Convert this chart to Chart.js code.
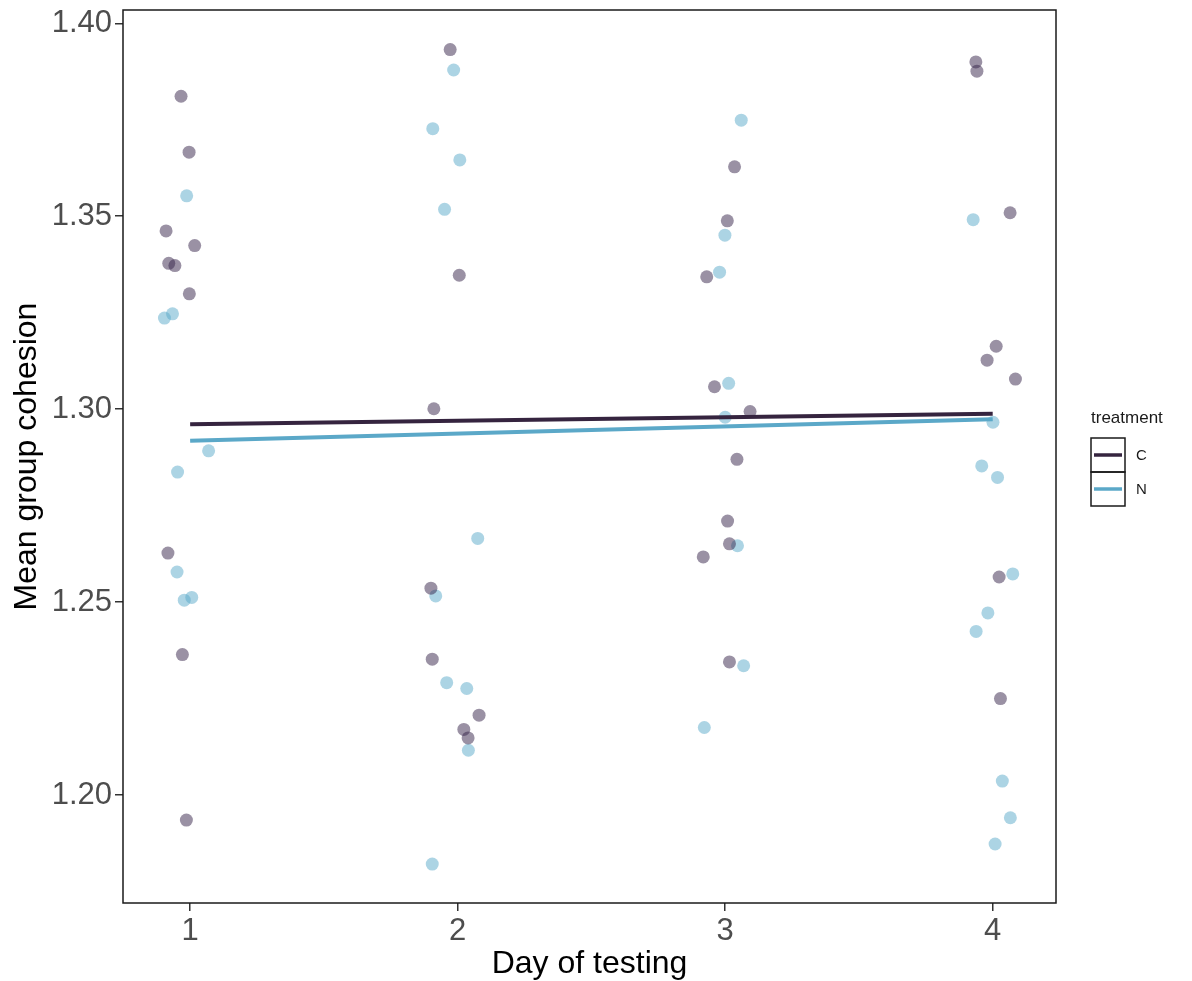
<!DOCTYPE html>
<html>
<head>
<meta charset="utf-8">
<title>Mean group cohesion by day</title>
<script src="https://cdn.jsdelivr.net/npm/chart.js@4.4.1/dist/chart.umd.min.js"></script>
<style>
  html, body { margin: 0; padding: 0; background: #fff; }
  #wrap { width: 1192px; height: 981px; }
</style>
</head>
<body>
<div id="wrap"><canvas id="cohesion" width="1192" height="981"></canvas></div>
<script>
"use strict";

/* ── Data: jittered day vs mean cohesion, per treatment ─────────────────── */
const C_DAY = [0.966, 0.996, 0.910, 1.017, 0.920, 0.943, 0.997, 0.917, 0.971, 0.986,
               1.972, 2.006, 1.911, 1.900, 1.905, 2.080, 2.023, 2.039,
               3.035, 3.008, 2.931, 2.960, 3.093, 3.044, 3.009, 3.016, 2.918, 3.016,
               3.937, 3.941, 4.065, 4.013, 3.979, 4.085, 4.024, 4.029];
const C_COHESION = [1.3811, 1.3666, 1.3462, 1.3424, 1.3378, 1.3372, 1.3299, 1.2627, 1.2364, 1.1935,
                    1.3932, 1.3347, 1.3001, 1.2536, 1.2352, 1.2207, 1.2170, 1.2148,
                    1.3628, 1.3488, 1.3343, 1.3058, 1.2994, 1.2870, 1.2710, 1.2651, 1.2617, 1.2345,
                    1.3900, 1.3876, 1.3509, 1.3163, 1.3127, 1.3078, 1.2565, 1.2250];

const N_DAY = [0.987, 0.904, 0.934, 1.069, 0.953, 0.951, 0.978, 1.006,
               1.985, 1.907, 2.008, 1.951, 2.075, 1.918, 1.959, 2.034, 2.040, 1.905,
               3.060, 2.999, 2.979, 3.013, 3.000, 3.046, 3.069, 2.922,
               3.927, 4.001, 3.959, 4.018, 4.075, 3.982, 3.938, 4.036, 4.066, 4.009];
const N_COHESION = [1.3553, 1.3236, 1.3247, 1.2892, 1.2837, 1.2578, 1.2505, 1.2512,
                    1.3879, 1.3727, 1.3646, 1.3518, 1.2665, 1.2516, 1.2291, 1.2276, 1.2116, 1.1821,
                    1.3749, 1.3451, 1.3355, 1.3067, 1.2979, 1.2646, 1.2335, 1.2175,
                    1.3491, 1.2966, 1.2853, 1.2823, 1.2573, 1.2472, 1.2424, 1.2036, 1.1941, 1.1873];

/* linear fit ends (day 1 → day 4) */
const FIT_DAYS = [1, 4];
const FIT_C = [1.2961, 1.2988];
const FIT_N = [1.2918, 1.2974];

const X_TICKS = [1, 2, 3, 4];
const Y_TICKS = [1.20, 1.25, 1.30, 1.35, 1.40];
const GROUPS = ["C", "N"];

/* ── Styling ────────────────────────────────────────────────────────────── */
const COL_C = "#35243f";
const COL_N = "#5ba8c8";
const PT_C = "rgba(54, 36, 73, 0.5)";
const PT_N = "rgba(90, 170, 202, 0.5)";
const FONT = "'Liberation Sans', Arial, Helvetica, sans-serif";
const TICK_COL = "#4d4d4d";

const pts = (xs, ys) => xs.map((x, i) => ({ x, y: ys[i] }));

/* panel border + boxed legend like ggplot's */
const frameAndKey = {
  id: "frameAndKey",
  afterDraw(chart) {
    const { ctx, chartArea: a } = chart;
    ctx.save();
    ctx.strokeStyle = "#1a1a1a";
    ctx.lineWidth = 1.5;
    ctx.strokeRect(a.left, a.top, a.right - a.left, a.bottom - a.top);

    const lx = 1091, ty = 418, kw = 34, kh = 34, k0 = 438;
    ctx.fillStyle = "#1a1a1a";
    ctx.font = "17px " + FONT;
    ctx.textAlign = "left";
    ctx.textBaseline = "middle";
    ctx.fillText("treatment", lx, ty);

    const cols = [COL_C, COL_N];
    GROUPS.forEach((g, i) => {
      const y = k0 + i * kh;
      ctx.strokeStyle = "#1a1a1a";
      ctx.lineWidth = 1.5;
      ctx.strokeRect(lx, y, kw, kh);
      ctx.strokeStyle = cols[i];
      ctx.lineWidth = 3.5;
      ctx.beginPath();
      ctx.moveTo(lx + 3, y + kh / 2);
      ctx.lineTo(lx + kw - 3, y + kh / 2);
      ctx.stroke();
      ctx.fillStyle = "#1a1a1a";
      ctx.font = "15px " + FONT;
      ctx.fillText(g, lx + kw + 11, y + kh / 2 + 1);
    });
    ctx.restore();
  },
};

new Chart(document.getElementById("cohesion"), {
  type: "scatter",
  data: {
    datasets: [
      { label: "C fit", type: "line", data: pts(FIT_DAYS, FIT_C), borderColor: COL_C,
        borderWidth: 4, pointRadius: 0, fill: false, order: 0 },
      { label: "N fit", type: "line", data: pts(FIT_DAYS, FIT_N), borderColor: COL_N,
        borderWidth: 4, pointRadius: 0, fill: false, order: 0 },
      { label: "C", data: pts(C_DAY, C_COHESION), backgroundColor: PT_C,
        borderWidth: 0, pointRadius: 6.5, order: 1 },
      { label: "N", data: pts(N_DAY, N_COHESION), backgroundColor: PT_N,
        borderWidth: 0, pointRadius: 6.5, order: 1 },
    ],
  },
  options: {
    responsive: false,
    animation: false,
    layout: { padding: { top: 10, right: 136, left: 0, bottom: 0 } },
    plugins: { legend: { display: false }, tooltip: { enabled: false } },
    scales: {
      x: {
        type: "linear", min: 0.749, max: 4.2366,
        afterBuildTicks: (s) => { s.ticks = X_TICKS.map((v) => ({ value: v })); },
        afterFit: (s) => { s.height = 78; s.paddingLeft = 0; s.paddingRight = 0; },
        grid: { drawOnChartArea: false, drawTicks: true, tickLength: 8, color: "#333", lineWidth: 1.5 },
        border: { display: false },
        ticks: { color: TICK_COL, font: { family: FONT, size: 31 }, padding: 2,
                 callback: (v) => String(v) },
        title: { display: true, text: "Day of testing", color: "#000",
                 font: { family: FONT, size: 32 }, padding: { top: 0, bottom: -2 } },
      },
      y: {
        type: "linear", min: 1.17201, max: 1.40345,
        afterBuildTicks: (s) => { s.ticks = Y_TICKS.map((v) => ({ value: v })); },
        afterFit: (s) => { s.width = 123; s.paddingTop = 0; s.paddingBottom = 0; },
        grid: { drawOnChartArea: false, drawTicks: true, tickLength: 8, color: "#333", lineWidth: 1.5 },
        border: { display: false },
        ticks: { color: TICK_COL, font: { family: FONT, size: 31 }, padding: 3,
                 callback: (v) => Number(v).toFixed(2) },
        title: { display: true, text: "Mean group cohesion", color: "#000",
                 font: { family: FONT, size: 32 }, padding: { top: 8, bottom: 0 } },
      },
    },
  },
  plugins: [frameAndKey],
});
</script>
</body>
</html>
